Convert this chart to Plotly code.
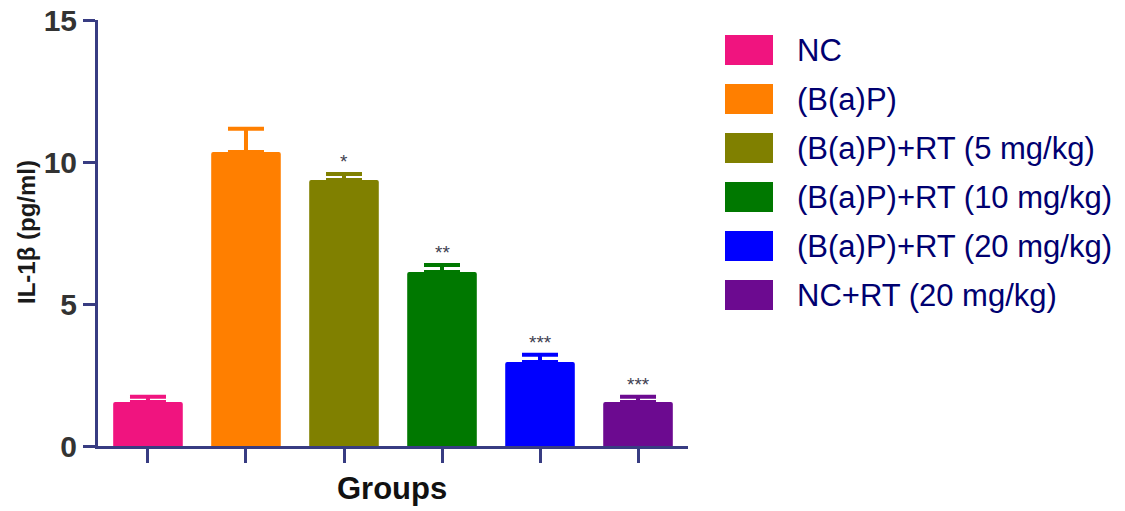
import plotly.graph_objects as go

# Group means, upper SEM and significance marks
groups = ["NC", "(B(a)P)", "(B(a)P)+RT (5 mg/kg)", "(B(a)P)+RT (10 mg/kg)",
          "(B(a)P)+RT (20 mg/kg)", "NC+RT (20 mg/kg)"]
means = [1.55, 10.35, 9.37, 6.13, 2.96, 1.55]
errors = [0.18, 0.82, 0.21, 0.24, 0.25, 0.18]
stars = ["", "", "*", "**", "***", "***"]
colors = ["#f0147f", "#ff7f00", "#808000", "#007800", "#0000ff", "#6c0a90"]

y_ticks = [0, 5, 10, 15]
axis_color = "#383c82"
font_family = "Liberation Sans, Arial, sans-serif"

fig = go.Figure()
for g, m, e, c in zip(groups, means, errors, colors):
    fig.add_trace(go.Bar(
        x=[g], y=[m], width=0.71,
        marker=dict(color=c, line=dict(width=0), cornerradius=2),
        error_y=dict(type="data", symmetric=False, array=[e], arrayminus=[0],
                     color=c, thickness=4, width=18),
        showlegend=False,
    ))

annotations = []
# significance stars above the error caps
for g, m, e, s in zip(groups, means, errors, stars):
    if s:
        annotations.append(dict(
            x=g, y=m + e, xref="x", yref="y", text=s, showarrow=False,
            yanchor="bottom", yshift=0,
            font=dict(family=font_family, size=19, color="#404050"),
        ))

# legend: large swatches with labels on the right
legend_top = 50
row_step = 49
for i, (g, c) in enumerate(zip(groups, colors)):
    yc = legend_top + i * row_step
    fig.add_shape(type="rect", xref="paper", yref="paper",
                  x0=(725 - 98) / 590, x1=(773 - 98) / 590,
                  y0=(446 - (yc - 15)) / 426, y1=(446 - (yc + 15)) / 426,
                  fillcolor=c, line=dict(width=0), layer="above")
    annotations.append(dict(
        x=(795 - 98) / 590, y=(446 - yc) / 426, xref="paper", yref="paper",
        text=g, showarrow=False, xanchor="left", yanchor="middle",
        font=dict(family=font_family, size=31, color="#000070"),
    ))

# axis titles
annotations.append(dict(
    x=(27 - 98) / 590, y=(446 - 232) / 426, xref="paper", yref="paper",
    text="<b>IL-1β (pg/ml)</b>", textangle=-90, showarrow=False,
    xanchor="center", yanchor="middle",
    font=dict(family=font_family, size=24, color="#1a1a1a"),
))
annotations.append(dict(
    x=(392 - 98) / 590, y=(446 - 488) / 426, xref="paper", yref="paper",
    text="<b>Groups</b>", showarrow=False, xanchor="center", yanchor="middle",
    font=dict(family=font_family, size=31, color="#111111"),
))

fig.update_layout(
    width=1125, height=511,
    margin=dict(l=98, r=437, t=20, b=65),
    paper_bgcolor="white", plot_bgcolor="white",
    barmode="overlay",
    annotations=annotations,
    xaxis=dict(
        type="category", range=[-0.51, 5.51], automargin=False,
        showticklabels=False, showgrid=False, zeroline=False,
        showline=True, linecolor=axis_color, linewidth=3,
        ticks="outside", ticklen=14, tickwidth=3, tickcolor=axis_color,
    ),
    yaxis=dict(
        range=[0, 15], tickvals=y_ticks, automargin=False,
        ticktext=[f"<b>{v}</b>" for v in y_ticks],
        showgrid=False, zeroline=False,
        showline=True, linecolor=axis_color, linewidth=3,
        ticks="outside", ticklen=12, tickwidth=3, tickcolor=axis_color,
        tickfont=dict(family=font_family, size=30, color="#333333"),
    ),
)

fig.write_html("out.html")
